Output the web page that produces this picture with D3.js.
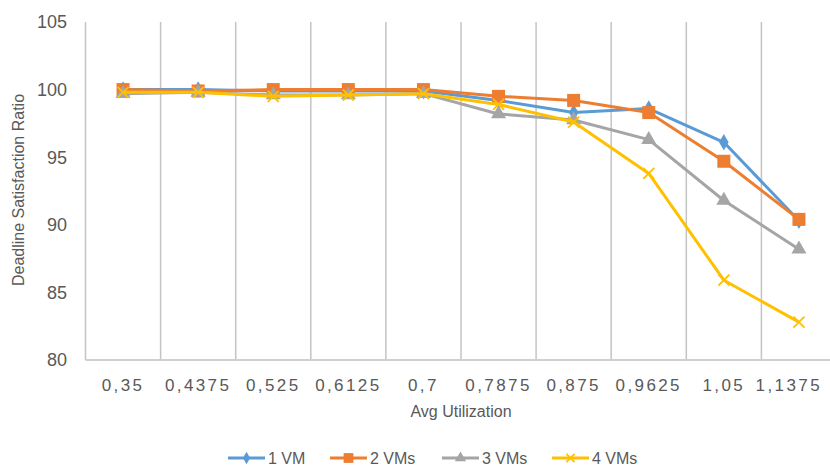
<!DOCTYPE html>
<html>
<head>
<meta charset="utf-8">
<script src="https://cdn.jsdelivr.net/npm/d3@7"></script>
<style>
  body { margin: 0; background: #fff; }
  text { font-family: "Liberation Sans", Arial, sans-serif; fill: #595959; }
</style>
</head>
<body>
<svg width="830" height="467"></svg>
<script>
// Chart data
const categories = ["0,35", "0,4375", "0,525", "0,6125", "0,7", "0,7875", "0,875", "0,9625", "1,05", "1,1375"];
const vm1 = [100, 100, 99.9, 99.9, 99.9, 99.2, 98.3, 98.6, 96.1, 90.3];
const vm2 = [100, 99.9, 100, 100, 100, 99.5, 99.2, 98.3, 94.7, 90.4];
const vm3 = [99.7, 99.8, 99.6, 99.6, 99.7, 98.2, 97.75, 96.3, 91.8, 88.2];
const vm4 = [99.8, 99.8, 99.5, 99.6, 99.7, 98.9, 97.6, 93.8, 85.9, 82.8];
const yTicks = [80, 85, 90, 95, 100, 105];

const series = [
  { name: "1 VM", values: vm1, color: "#5B9BD5", symbol: "diamond" },
  { name: "2 VMs", values: vm2, color: "#ED7D31", symbol: "square" },
  { name: "3 VMs", values: vm3, color: "#A5A5A5", symbol: "triangle" },
  { name: "4 VMs", values: vm4, color: "#FFC000", symbol: "x" },
];

const svg = d3.select("svg");

// Layout
const plotLeft = 85.5, plotRight = 836.5, plotTop = 22, plotBottom = 360;

const x = d3.scaleBand().domain(categories).range([plotLeft, plotRight]);
const y = d3.scaleLinear().domain([80, 105]).range([plotBottom, plotTop]);

// Vertical gridlines between categories
svg.append("g")
  .selectAll("line")
  .data(categories)
  .enter()
  .append("line")
  .attr("x1", (d) => x(d))
  .attr("x2", (d) => x(d))
  .attr("y1", plotTop)
  .attr("y2", plotBottom)
  .attr("stroke", "#c4c4c4")
  .attr("stroke-width", 1.5);

// Bottom axis line
svg.append("line")
  .attr("x1", plotLeft)
  .attr("x2", plotRight)
  .attr("y1", plotBottom)
  .attr("y2", plotBottom)
  .attr("stroke", "#d0d0d0")
  .attr("stroke-width", 2);

// Y tick labels
svg.append("g")
  .selectAll("text")
  .data(yTicks)
  .enter()
  .append("text")
  .attr("x", 67)
  .attr("y", (d) => y(d))
  .attr("dy", "0.35em")
  .attr("text-anchor", "end")
  .style("font-size", "18px")
  .text((d) => d);

// X tick labels (last one is pulled in so it stays inside the picture)
svg.append("g")
  .selectAll("text")
  .data(categories)
  .enter()
  .append("text")
  .attr("x", (d) => x(d) + x.bandwidth() / 2)
  .attr("y", 391)
  .attr("text-anchor", "middle")
  .style("font-size", "17px")
  .style("letter-spacing", "2.4px")
  .text((d) => d)
  .each(function(d) {
    const w = this.getComputedTextLength();
    const cx = Math.min(x(d) + x.bandwidth() / 2, 822 - w / 2);
    d3.select(this).attr("x", cx);
  });

// Axis titles
svg.append("text")
  .attr("x", 461)
  .attr("y", 417)
  .attr("text-anchor", "middle")
  .style("font-size", "16px")
  .text("Avg Utilization");

svg.append("text")
  .attr("transform", "translate(24, 190) rotate(-90)")
  .attr("text-anchor", "middle")
  .style("font-size", "16px")
  .text("Deadline Satisfaction Ratio");

// Marker drawing helper
function drawMarker(g, symbol, color, size) {
  if (symbol === "diamond") {
    g.append("path")
      .attr("d", d3.symbol(d3.symbolDiamond, size * size * 0.55)())
      .attr("fill", color);
  } else if (symbol === "square") {
    g.append("rect")
      .attr("x", -size / 2)
      .attr("y", -size / 2)
      .attr("width", size)
      .attr("height", size)
      .attr("fill", color);
  } else if (symbol === "triangle") {
    g.append("path")
      .attr("d", d3.symbol(d3.symbolTriangle, size * size * 0.5)())
      .attr("fill", color);
  } else {
    const h = size / 2;
    g.append("path")
      .attr("d", `M${-h},${-h}L${h},${h}M${-h},${h}L${h},${-h}`)
      .attr("stroke", color)
      .attr("stroke-width", 1.8)
      .attr("fill", "none");
  }
}

const markerSize = { diamond: 12, square: 13, triangle: 14, x: 11 };

const line = d3
  .line()
  .x((d, i) => x(categories[i]) + x.bandwidth() / 2)
  .y((d) => y(d));

// Series lines and markers
series.forEach((s) => {
  svg.append("path")
    .datum(s.values)
    .attr("d", line)
    .attr("fill", "none")
    .attr("stroke", s.color)
    .attr("stroke-width", 3)
    .attr("stroke-linejoin", "round");

  s.values.forEach((v, i) => {
    const g = svg.append("g")
      .attr("transform", `translate(${x(categories[i]) + x.bandwidth() / 2}, ${y(v)})`);
    drawMarker(g, s.symbol, s.color, markerSize[s.symbol]);
  });
});

// Legend
const legendX = [228, 330, 442, 552];
series.forEach((s, i) => {
  const g = svg.append("g").attr("transform", `translate(${legendX[i]}, 458)`);
  g.append("line")
    .attr("x1", 0)
    .attr("x2", 37)
    .attr("stroke", s.color)
    .attr("stroke-width", 3);
  const m = g.append("g").attr("transform", "translate(18.5, 0)");
  drawMarker(m, s.symbol, s.color, markerSize[s.symbol] * 0.75);
  g.append("text")
    .attr("x", 40)
    .attr("dy", "0.35em")
    .style("font-size", "16px")
    .text(s.name);
});
</script>
</body>
</html>
